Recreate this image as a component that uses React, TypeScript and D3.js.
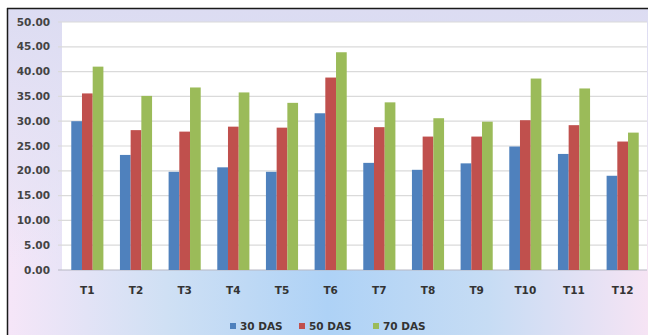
import React from "react";
import * as d3 from "d3";

const categories = ["T1", "T2", "T3", "T4", "T5", "T6", "T7", "T8", "T9", "T10", "T11", "T12"];
const seriesNames = ["30 DAS", "50 DAS", "70 DAS"];
const das30 = [30.0, 23.2, 19.8, 20.7, 19.8, 31.6, 21.6, 20.2, 21.5, 24.9, 23.4, 19.0];
const das50 = [35.6, 28.2, 27.9, 28.9, 28.7, 38.8, 28.8, 26.9, 26.9, 30.2, 29.2, 25.9];
const das70 = [41.0, 35.1, 36.8, 35.8, 33.7, 43.9, 33.8, 30.6, 29.9, 38.6, 36.6, 27.7];
const yTicks = [0, 5, 10, 15, 20, 25, 30, 35, 40, 45, 50];
const colors = ["#4F81BD", "#C0504D", "#9BBB59"];

const W = 648;
const H = 335;
const plot = { left: 62, right: 647, top: 22, bottom: 270 };
const font = "'DejaVu Sans', sans-serif";

export default function App() {
  const series = [das30, das50, das70];
  const x = d3
    .scaleBand<string>()
    .domain(categories)
    .range([plot.left + 1, plot.right])
    .paddingInner(0.34)
    .paddingOuter(0.17);
  const xs = d3
    .scaleBand<string>()
    .domain(seriesNames)
    .range([0, x.bandwidth()]);
  const y = d3.scaleLinear().domain([0, 50]).range([plot.bottom, plot.top]);

  const legendX = [230, 299, 373];

  return (
    <svg
      width={W}
      height={H}
      style={{ position: "absolute", left: 0, top: 0 }}
      xmlns="http://www.w3.org/2000/svg"
    >
      <defs>
        <linearGradient id="bgH" x1="0" y1="0" x2="1" y2="0">
          <stop offset="0" stopColor="#f6e6f8" />
          <stop offset="0.25" stopColor="#cfe0f4" />
          <stop offset="0.5" stopColor="#aed2f6" />
          <stop offset="0.75" stopColor="#c6dcf4" />
          <stop offset="1" stopColor="#f6e4f4" />
        </linearGradient>
        <linearGradient id="bgV" x1="0" y1="0" x2="0" y2="1">
          <stop offset="0" stopColor="#dcdcf2" stopOpacity="1" />
          <stop offset="0.55" stopColor="#e4e2f4" stopOpacity="0.6" />
          <stop offset="0.8" stopColor="#e8e4f6" stopOpacity="0" />
        </linearGradient>
      </defs>

      <rect x={7} y={8} width={W - 7} height={H - 8} fill="url(#bgH)" />
      <rect x={7} y={8} width={W - 7} height={H - 8} fill="url(#bgV)" />
      <line x1={7} y1={8.5} x2={W} y2={8.5} stroke="#1a1a1a" strokeWidth={1.5} />
      <line x1={7.5} y1={8} x2={7.5} y2={H} stroke="#1a1a1a" strokeWidth={1.5} />

      <rect
        x={plot.left}
        y={plot.top}
        width={plot.right - plot.left}
        height={plot.bottom - plot.top}
        fill="#ffffff"
      />

      {yTicks.map((t) => (
        <g key={t}>
          <line
            x1={plot.left - 4}
            x2={plot.right}
            y1={y(t)}
            y2={y(t)}
            stroke={t === 0 ? "#b8b8c4" : "#dadada"}
            strokeWidth={1.2}
          />
          <text
            x={50}
            y={y(t)}
            dy="0.35em"
            textAnchor="end"
            fontFamily={font}
            fontWeight="bold"
            fontSize={10.5}
            fill="#444"
          >
            {t.toFixed(2)}
          </text>
        </g>
      ))}

      {categories.map((c, i) => (
        <g key={c} transform={`translate(${x(c)},0)`}>
          {series.map((s, j) => (
            <rect
              key={j}
              x={xs(seriesNames[j])}
              y={y(s[i])}
              width={xs.bandwidth()}
              height={y(0) - y(s[i])}
              fill={colors[j]}
            />
          ))}
          <text
            x={x.bandwidth() / 2}
            y={290}
            dy="0.35em"
            textAnchor="middle"
            fontFamily={font}
            fontWeight="bold"
            fontSize={10.5}
            fill="#333"
          >
            {c}
          </text>
        </g>
      ))}

      {seriesNames.map((n, j) => (
        <g key={n} transform={`translate(${legendX[j]},326)`}>
          <rect x={0} y={-3} width={6} height={6} fill={colors[j]} />
          <text
            x={10}
            y={0}
            dy="0.35em"
            fontFamily={font}
            fontWeight="bold"
            fontSize={10.5}
            fill="#333"
          >
            {n}
          </text>
        </g>
      ))}
    </svg>
  );
}
